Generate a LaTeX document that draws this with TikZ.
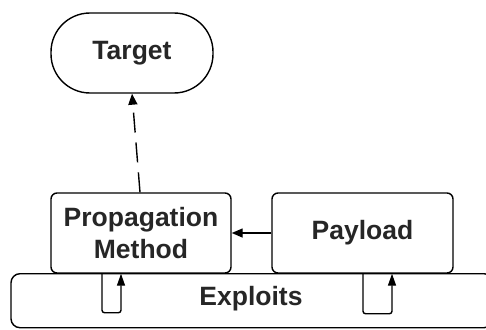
\documentclass[tikz,border=0pt]{standalone}
\usepackage{fontspec}
\setmainfont{Liberation Sans}
\usetikzlibrary{arrows.meta}
\begin{document}
\begin{tikzpicture}[x=1pt,y=-1pt,
  every node/.style={font=\fontsize{26.5}{32}\selectfont\bfseries, text=black!85, align=center},
  box/.style={draw, line width=1.4pt, rounded corners=6pt, inner sep=0pt},
  link/.style={line width=1.4pt, -{Triangle[length=11pt,width=9pt]}},
  loop/.style={line width=1.4pt, rounded corners=2.5pt, -{Triangle[length=12pt,width=8pt]}}]
  \useasboundingbox (0,0) rectangle (486,329);
  % upper terminal node
  \node[draw, line width=1.4pt, rounded corners=39pt, minimum width=162pt, minimum height=80pt] (target) at (132,53) {Target};
  % component boxes
  \node[box, minimum width=180pt, minimum height=80pt] (prop) at (141,233) {Propagation\\Method};
  \node[box, minimum width=181pt, minimum height=80pt] (payload) at (362.5,233) {Payload};
  \node[box, rounded corners=9pt, minimum width=482pt, minimum height=54pt, anchor=north] (exploits) at (252,273) {};
  \node at (251,299) {Exploits};
  % connectors
  \draw[link, dash pattern=on 20pt off 10pt] ([xshift=-1pt]prop.north) -- (target.south);
  \draw[link] (payload.west) -- (prop.east);
  \draw[loop] ([xshift=-39pt]prop.south) -- ++(0,39) -- ++(19,0) -- ([xshift=-20pt]prop.south);
  \draw[loop] ([xshift=0.5pt]payload.south) -- ++(0,40) -- ++(29,0) -- ([xshift=29.5pt]payload.south);
\end{tikzpicture}
\end{document}
